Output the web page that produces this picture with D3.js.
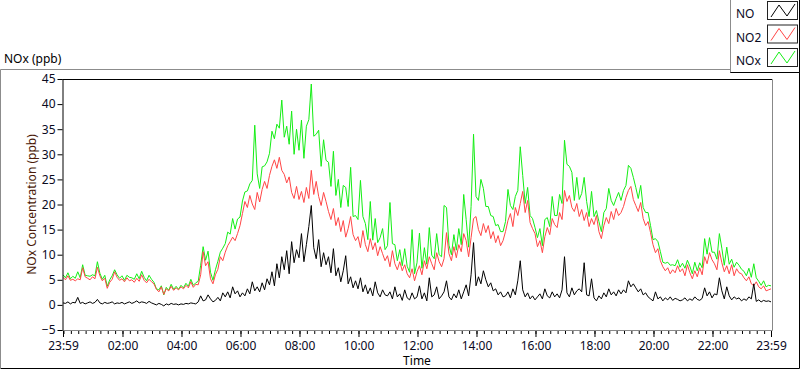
<!DOCTYPE html>
<html>
<head>
<meta charset="utf-8">
<script src="https://cdn.jsdelivr.net/npm/d3@7"></script>
<style>
body { margin: 0; background: #fff; }
svg text { font-family: "Noto Sans", "Open Sans", sans-serif; font-size: 12px; }
</style>
</head>
<body>
<svg id="svg"></svg>
<script>
var width = 800, height = 369;

// sampled every 5 minutes from 23:59 to 23:59 (289 samples)
var no2 = [
	5.5, 5.0, 5.8, 4.9, 5.1, 4.8, 5.2, 5.0, 7.4, 5.6, 5.3, 5.0,
	5.6, 5.2, 7.5, 5.8, 4.8, 5.3, 3.3, 4.5, 5.1, 6.6, 5.5, 4.9,
	5.2, 4.6, 5.4, 4.8, 5.0, 4.5, 5.3, 4.7, 6.0, 4.9, 4.4, 5.1,
	4.6, 4.2, 3.1, 2.6, 3.6, 2.1, 3.2, 2.8, 3.7, 2.9, 3.4, 3.0,
	3.6, 3.2, 3.9, 3.4, 4.6, 3.5, 4.1, 4.0, 6.0, 10.6, 7.8, 8.6,
	5.2, 4.2, 6.0, 7.1, 9.6, 8.8, 10.5, 11.8, 12.6, 13.5, 12.8, 14.2,
	15.8, 18.2, 20.6, 19.4, 21.8, 20.1, 19.0, 22.4, 20.5, 23.0, 24.6, 23.2,
	25.8, 27.6, 28.9, 27.2, 29.4, 26.8, 26.0, 24.3, 25.5, 22.4, 21.2, 23.6,
	21.0, 22.6, 20.4, 23.4, 21.2, 26.8, 22.0, 24.6, 21.6, 19.8, 22.4, 20.6,
	18.6, 17.0, 19.2, 15.8, 17.4, 14.6, 16.8, 13.5, 15.2, 17.6, 14.0, 12.8,
	13.6, 11.4, 14.8, 12.0, 10.6, 13.2, 11.0, 12.4, 9.8, 11.6, 10.2, 8.8,
	9.8, 7.6, 10.8, 8.2, 7.0, 8.6, 6.8, 8.0, 6.2, 5.4, 7.2, 4.8,
	6.6, 7.8, 6.0, 8.8, 7.2, 9.6, 8.2, 7.0, 10.4, 8.6, 7.6, 9.2,
	14.4, 10.2, 8.8, 11.6, 9.4, 12.0, 10.6, 14.2, 12.8, 9.6, 13.4, 17.2,
	17.6, 15.0, 13.8, 16.2, 14.4, 15.8, 13.2, 14.6, 12.4, 13.8, 11.8, 12.8,
	14.6, 16.8, 18.2, 15.6, 19.4, 17.8, 20.2, 22.6, 18.4, 20.8, 16.4, 15.2,
	14.2, 11.6, 12.8, 10.4, 13.6, 15.4, 14.0, 17.2, 16.0, 15.4, 18.4, 17.0,
	22.8, 20.6, 21.8, 19.4, 18.6, 20.2, 17.6, 19.0, 16.8, 18.4, 15.6, 17.2,
	16.0, 17.8, 14.6, 13.2, 15.8, 17.4, 16.2, 18.6, 17.0, 19.2, 17.8, 18.4,
	19.6, 21.4, 22.8, 23.6, 21.0, 19.8, 18.6, 20.4, 17.2, 15.8, 16.6, 14.4,
	12.0, 10.4, 11.2, 8.8, 7.6, 6.8, 7.4, 6.2, 7.0, 6.4, 7.8, 6.6,
	7.2, 5.8, 8.0, 6.4, 5.2, 6.8, 5.6, 7.4, 6.0, 9.6, 8.2, 10.4,
	9.0, 8.2, 7.0, 10.8, 8.4, 6.6, 7.8, 6.2, 8.0, 5.8, 7.2, 6.4,
	6.2, 5.4, 4.8, 5.6, 4.2, 3.8, 4.6, 3.6, 3.2, 3.8, 2.8, 3.0,
	3.2
];
var no = [
	0.4, 0.3, 0.6, 0.2, 0.5, 0.4, 1.5, 0.3, 0.5, 0.2, 0.4, 0.6,
	0.3, 0.5, 1.1, 0.4, 0.2, 0.5, 0.3, 0.4, 0.6, 0.2, 0.4, 0.3,
	0.5, 0.2, 0.4, 0.6, 0.3, 0.5, 0.8, 0.4, 0.6, 0.5, 0.3, 0.7,
	0.4, 0.2, 0.0, 0.3, 0.1, -0.2, 0.2, 0.0, 0.3, 0.1, 0.2, 0.0,
	0.2, 0.1, 0.3, 0.2, 0.4, 0.3, 0.2, 0.6, 1.8, 0.8, 1.0, 2.0,
	1.2, 0.6, 0.9, 1.5, 0.8, 2.4, 1.6, 2.6, 1.4, 3.6, 2.2, 2.8,
	1.6, 2.4, 1.8, 3.2, 2.2, 4.6, 2.8, 3.6, 2.6, 4.4, 3.0, 5.2,
	4.0, 6.6, 3.8, 8.2, 5.4, 9.6, 7.0, 10.8, 6.2, 12.6, 8.4, 11.0,
	9.4, 14.2, 8.6, 12.0, 15.6, 19.8, 11.4, 9.2, 13.0, 7.6, 10.4, 8.0,
	9.6, 6.4, 11.2, 5.8, 7.4, 4.6, 6.8, 9.8, 4.2, 5.6, 3.4, 4.8,
	3.2, 5.4, 2.6, 4.0, 2.2, 3.4, 1.8, 4.6, 2.4, 1.6, 3.0, 2.0,
	1.8, 2.6, 1.2, 3.6, 1.6, 2.2, 0.9, 3.0, 1.4, 1.0, 2.4, 1.2,
	1.6, 3.8, 1.2, 2.4, 0.8, 5.4, 1.6, 2.0, 3.6, 1.2, 1.8, 2.6,
	4.8, 1.6, 1.0, 2.2, 1.4, 3.0, 1.2, 2.6, 4.0, 1.8, 6.0, 12.4,
	3.8, 5.6, 4.2, 6.8, 5.0, 3.6, 4.4, 2.8, 3.2, 2.0, 2.6, 1.6,
	1.8, 2.6, 1.4, 3.2, 2.0, 4.8, 8.8, 3.0, 1.6, 2.4, 1.2, 1.8,
	1.0, 1.6, 2.2, 1.2, 3.2, 1.8, 1.4, 2.6, 1.6, 2.2, 1.4, 3.0,
	9.6, 2.4, 1.6, 3.4, 2.0, 2.8, 3.2, 2.6, 8.4, 2.0, 1.8, 5.2,
	1.4, 0.8, 1.8, 1.2, 2.4, 1.6, 3.2, 2.0, 2.6, 1.8, 3.0, 2.2,
	3.0, 2.4, 4.8, 3.6, 4.2, 3.4, 2.6, 3.2, 2.0, 2.4, 1.6, 1.2,
	0.8, 2.6, 1.2, 1.6, 0.8, 1.4, 1.0, 1.6, 0.9, 1.3, 1.1, 0.8,
	1.0, 1.4, 0.8, 1.2, 0.9, 1.6, 1.1, 0.9, 1.3, 3.4, 1.8, 2.6,
	1.4, 2.2, 2.0, 5.4, 2.8, 1.2, 3.6, 1.8, 1.0, 1.6, 1.2, 1.4,
	0.8, 1.2, 0.9, 1.6, 1.2, 4.2, 0.7, 1.0, 0.6, 0.9, 0.7, 0.8,
	0.6
];
var nox = [
	6.0, 5.4, 6.4, 5.2, 5.7, 5.3, 6.6, 5.4, 8.0, 5.9, 5.8, 5.7,
	6.0, 5.8, 8.6, 6.3, 5.1, 5.9, 3.7, 5.0, 5.8, 7.0, 6.0, 5.3,
	5.8, 4.9, 5.9, 5.5, 5.4, 5.1, 6.2, 5.2, 6.7, 5.5, 4.8, 5.9,
	5.1, 4.5, 3.2, 3.0, 3.8, 2.0, 3.5, 2.9, 4.1, 3.1, 3.7, 3.1,
	3.9, 3.4, 4.3, 3.7, 5.1, 3.9, 4.4, 4.7, 7.9, 11.6, 8.9, 10.7,
	6.5, 4.9, 7.0, 8.7, 10.5, 11.3, 12.2, 14.5, 14.1, 17.2, 15.1, 17.1,
	17.5, 20.7, 22.5, 22.7, 24.1, 24.8, 35.8, 26.1, 23.2, 27.5, 27.7, 28.5,
	30.2, 34.6, 33.1, 36.0, 35.2, 40.8, 33.4, 35.6, 32.0, 38.6, 30.0, 35.0,
	30.8, 36.8, 29.2, 35.6, 36.9, 44.0, 33.6, 34.0, 34.8, 27.6, 32.9, 28.8,
	28.4, 23.6, 30.6, 21.8, 25.0, 19.4, 23.8, 23.4, 19.6, 27.4, 17.6, 17.8,
	17.0, 24.8, 17.6, 16.2, 13.0, 20.6, 12.9, 17.2, 12.4, 13.4, 15.2, 11.0,
	11.8, 20.4, 12.2, 12.0, 8.8, 11.0, 7.8, 11.2, 7.7, 6.5, 15.0, 6.2,
	8.4, 14.3, 7.3, 11.4, 8.1, 15.4, 9.9, 9.2, 14.2, 10.0, 9.6, 19.8,
	19.4, 11.9, 10.0, 14.0, 10.9, 15.2, 12.0, 22.0, 17.0, 11.5, 19.6, 34.0,
	21.6, 20.8, 25.0, 23.2, 19.6, 19.6, 17.8, 17.6, 15.8, 16.0, 14.6, 14.6,
	16.6, 23.0, 19.8, 19.0, 21.6, 22.8, 31.5, 25.8, 20.2, 23.4, 17.8, 17.2,
	15.4, 13.4, 15.2, 11.8, 17.0, 17.4, 15.6, 21.6, 17.8, 17.8, 22.0, 20.2,
	32.8, 28.0, 27.6, 26.4, 20.8, 25.4, 21.0, 22.2, 25.4, 20.6, 17.6, 22.6,
	17.6, 18.8, 16.6, 14.6, 18.4, 19.2, 23.2, 20.8, 19.8, 21.2, 22.4, 20.8,
	22.8, 23.8, 27.8, 27.2, 25.4, 23.4, 21.2, 23.8, 19.4, 18.4, 18.4, 15.8,
	13.0, 13.2, 12.6, 10.6, 8.5, 8.3, 8.5, 7.9, 8.0, 7.8, 9.0, 7.5,
	8.3, 7.3, 8.9, 7.7, 6.2, 8.5, 6.8, 8.4, 7.4, 13.2, 10.1, 13.4,
	10.5, 10.5, 9.1, 14.2, 11.3, 7.9, 11.5, 8.1, 9.1, 7.5, 8.5, 7.9,
	7.1, 6.7, 5.8, 7.3, 5.5, 8.2, 5.4, 4.7, 3.9, 4.8, 3.6, 3.9,
	3.8
];
var minutes = d3.range(0, 1441, 5);

var yTicks = [-5, 0, 5, 10, 15, 20, 25, 30, 35, 40, 45];
var xTickMinutes = [0, 121, 241, 361, 481, 601, 721, 841, 961, 1081, 1201, 1321, 1440];
var xTickLabels = ["23:59", "02:00", "04:00", "06:00", "08:00", "10:00", "12:00",
	"14:00", "16:00", "18:00", "20:00", "22:00", "23:59"];

var seriesNames = ["NO", "NO2", "NOx"];
var seriesColors = ["#000000", "#ff4646", "#14ee14"];

var plotLeft = 62, plotRight = 772, plotTop = 79, plotBottom = 330;

var svg = d3.select("#svg")
	.attr("width", width)
	.attr("height", height);

// outer panel frame
svg.append("path")
	.attr("d", "M0.5,368 V69.5 H731")
	.attr("fill", "none")
	.attr("stroke", "#8c8c8c");
svg.append("path")
	.attr("d", "M0.5,368.5 H799.5 V72")
	.attr("fill", "none")
	.attr("stroke", "#000");

svg.append("text")
	.attr("x", 4)
	.attr("y", 63)
	.text("NOx (ppb)");

var x = d3.scaleLinear()
	.domain([0, 1440])
	.range([plotLeft + 1, plotRight - 1]);
var y = d3.scaleLinear()
	.domain([-5, 45])
	.range([plotBottom, plotTop]);

svg.append("clipPath")
	.attr("id", "clip")
	.append("rect")
	.attr("x", plotLeft + 1)
	.attr("y", plotTop)
	.attr("width", plotRight - plotLeft - 1)
	.attr("height", plotBottom - plotTop);

var lines = [no, no2, nox];
var line = d3.line()
	.x(function(d, i) { return x(minutes[i]); })
	.y(function(d) { return y(d); });

// NOx behind, then NO2, then NO
[2, 1, 0].forEach(function(k) {
	svg.append("path")
		.datum(lines[k])
		.attr("clip-path", "url(#clip)")
		.attr("d", line)
		.attr("fill", "none")
		.attr("stroke", seriesColors[k])
		.attr("stroke-width", 1);
});

// plot frame
svg.append("path")
	.attr("d", "M" + plotLeft + "," + (plotTop + 0.5) + " H" + (plotRight + 0.5) + " V" + (plotBottom + 0.5) + " H" + plotLeft)
	.attr("fill", "none")
	.attr("stroke", "#888");
svg.append("line")
	.attr("x1", plotLeft + 0.5).attr("x2", plotRight)
	.attr("y1", plotTop + 0.5).attr("y2", plotTop + 0.5)
	.attr("stroke", "#000");

var yAxis = d3.axisLeft(y)
	.tickValues(yTicks)
	.tickSize(5)
	.tickSizeOuter(0)
	.tickPadding(2);
var gy = svg.append("g")
	.attr("transform", "translate(" + (plotLeft + 0.5) + ",0)")
	.call(yAxis);
gy.select(".domain").attr("stroke", "#000");
gy.selectAll("text").style("font-size", "12px").style("font-family", null).attr("fill", "#0a0a1e");

var xAxis = d3.axisBottom(x)
	.tickValues(xTickMinutes)
	.tickSize(6)
	.tickSizeOuter(0)
	.tickPadding(4)
	.tickFormat(function(d, i) { return xTickLabels[i]; });
var gx = svg.append("g")
	.attr("transform", "translate(0," + (plotBottom + 1) + ")")
	.call(xAxis);
gx.select(".domain").remove();
gx.selectAll("text").style("font-size", "12px").attr("fill", "#0a0a1e");

var minorAxis = d3.axisBottom(x)
	.tickValues(d3.range(1, 1440, 15))
	.tickSize(3)
	.tickFormat("");
var gm = svg.append("g")
	.attr("transform", "translate(0," + (plotBottom + 1) + ")")
	.call(minorAxis);
gm.select(".domain").remove();

svg.append("text")
	.attr("x", (plotLeft + plotRight) / 2)
	.attr("y", 365)
	.style("text-anchor", "middle")
	.text("Time");

svg.append("text")
	.attr("transform", "translate(36," + ((plotTop + plotBottom) / 2) + ") rotate(-90)")
	.style("text-anchor", "middle")
	.attr("fill", "#4a1a08")
	.text("NOx Concentration (ppb)");

// legend
var legend = svg.append("g");
legend.append("path")
	.attr("d", "M730.5,0 V72.5 H799.5 V0")
	.attr("fill", "#fff")
	.attr("stroke", "#000");
legend.append("line")
	.attr("x1", 730.5).attr("x2", 730.5)
	.attr("y1", 0).attr("y2", 72)
	.attr("stroke", "#8c8c8c");
var row = legend.selectAll("g.row")
	.data(seriesNames)
	.enter()
	.append("g")
	.attr("class", "row")
	.attr("transform", function(d, i) { return "translate(0," + (i * 23.5) + ")"; });
row.append("text")
	.attr("x", 736)
	.attr("y", 18)
	.attr("fill", "#0a0a1e")
	.text(function(d) { return d; });
row.append("rect")
	.attr("x", 767.5)
	.attr("y", 1.5)
	.attr("width", 30)
	.attr("height", 18)
	.attr("fill", "#fff")
	.attr("stroke", "#222");
row.append("path")
	.attr("d", "M771,17 L779,5 L787,16 L795,4")
	.attr("fill", "none")
	.attr("stroke", function(d, i) { return seriesColors[i]; });
</script>
</body>
</html>
